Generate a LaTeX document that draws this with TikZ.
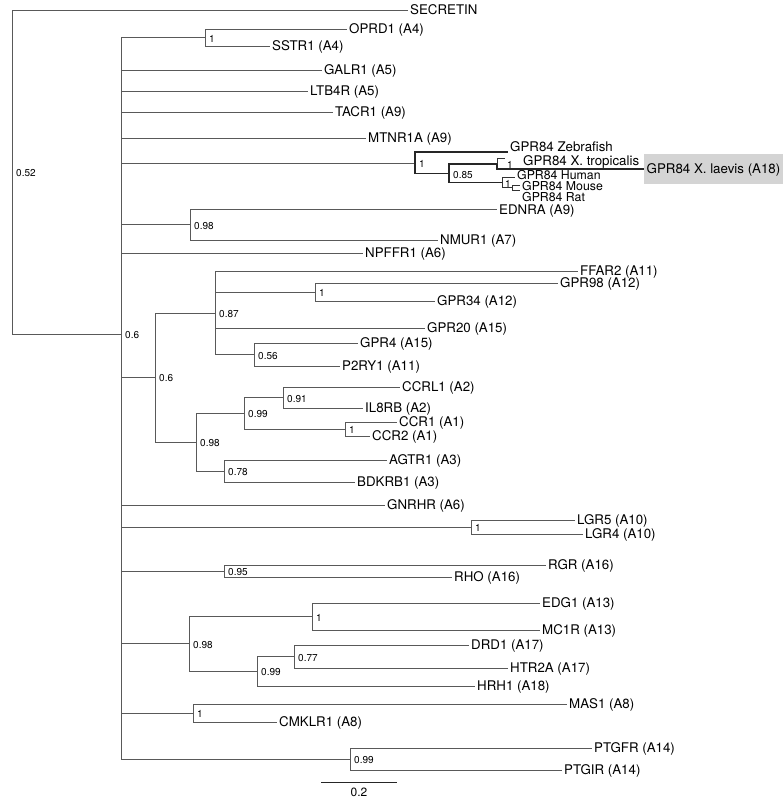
\documentclass[tikz,border=0pt]{standalone}
\usepackage{fontspec}
\setmainfont{TeX Gyre Heros}
\begin{document}
\begin{tikzpicture}[x=1pt,y=-1pt,
  br/.style={draw=black!65,line width=0.9pt},
  hl/.style={draw=black!85,line width=1.5pt},
  hs/.style={draw=black!80,line width=1pt},
  leaf/.style={anchor=west,inner xsep=2pt,inner ysep=0pt,text height=9.4pt,text depth=0pt,font=\fontsize{13.3}{14}\selectfont},
  tight/.style={leaf,text height=8.6pt,font=\fontsize{12.3}{13}\selectfont},
  bs/.style={anchor=west,inner sep=0pt,xshift=4pt,yshift=-1.2pt,text height=7.2pt,text depth=0pt,font=\fontsize{10}{11}\selectfont},
]
\useasboundingbox (0,0) rectangle (784,801);

% root
\coordinate (r) at (12,172);
\coordinate (m) at (121,334);
\node[leaf] (secretin) at (408,10) {SECRETIN};
\draw[br] (r) |- (secretin.west);
\draw[br] (r) |- (m);
\node[bs] (sr) at (r) {0.52};
\node[bs] (sm) at (m) {0.6};

% OPRD1 / SSTR1
\coordinate (c1) at (205,37.5);
\node[leaf] (oprd1) at (347,29) {OPRD1 (A4)};
\node[leaf] (sstr1) at (270,46) {SSTR1 (A4)};
\draw[br] (m) |- (c1);
\draw[br] (c1) |- (oprd1.west);
\draw[br] (c1) |- (sstr1.west);
\node[bs] (sc1) at (c1) {1};

% single leaves
\node[leaf] (galr1) at (322,70) {GALR1 (A5)};
\node[leaf] (ltb4r) at (308,91) {LTB4R (A5)};
\node[leaf] (tacr1) at (333,112) {TACR1 (A9)};
\node[leaf] (mtnr1a) at (366,138) {MTNR1A (A9)};
\draw[br] (m) |- (galr1.west);
\draw[br] (m) |- (ltb4r.west);
\draw[br] (m) |- (tacr1.west);
\draw[br] (m) |- (mtnr1a.west);

% GPR84 clade
\coordinate (g1) at (415,163);
\coordinate (g2) at (449,173.5);
\coordinate (g3) at (497,164);
\coordinate (g4) at (502,182.5);
\coordinate (g5) at (512,187.8);
\coordinate (zeb) at (508,152);
\coordinate (trop) at (505,158);
\coordinate (hum) at (515,177);
\coordinate (mou) at (520,185.5);
\coordinate (rat) at (520,190);
\node[leaf] (zebl) at (508,147) {GPR84 Zebrafish};
\node[leaf] (tropl) at (521,160.5) {GPR84 X. tropicalis};
\node[leaf,fill=black!17,inner xsep=2.5pt,minimum height=30pt] (laev) at (644,169) {GPR84 X. laevis (A18)};
\node[tight] (huml) at (515,175.3) {GPR84 Human};
\node[tight] (moul) at (520,186) {GPR84 Mouse};
\node[tight] (ratl) at (520,197.6) {GPR84 Rat};
\draw[br] (m) |- (g1);
\draw[hl] (g1) |- (zeb);
\draw[hl] (g1) |- (g2);
\draw[hl] (g2) |- (g3);
\draw[hl] (g2) |- (g4);
\draw[hs] (g3) |- (trop);
\draw[hl] (g3) |- (laev.west);
\draw[hs] (g4) |- (hum);
\draw[hs] (g4) |- (g5);
\draw[hs] (g5) |- (mou);
\draw[hs] (g5) |- (rat);
\node[bs] (sg1) at (g1) {1};
\node[bs] (sg2) at (g2) {0.85};
\node[bs,xshift=6pt] (sg3) at (g3) {1};
\node[bs,xshift=-1pt] (sg4) at (g4) {1};

% EDNRA / NMUR1
\coordinate (e1) at (190,224.5);
\node[leaf] (ednra) at (497,209.8) {EDNRA (A9)};
\node[leaf] (nmur1) at (438,240) {NMUR1 (A7)};
\draw[br] (m) |- (e1);
\draw[br] (e1) |- (ednra.west);
\draw[br] (e1) |- (nmur1.west);
\node[bs] (se1) at (e1) {0.98};

\node[leaf] (npffr1) at (363,253) {NPFFR1 (A6)};
\draw[br] (m) |- (npffr1.west);

% big 0.6 clade
\coordinate (q) at (155,377);
\coordinate (p) at (215,313);
\coordinate (p2) at (315,292);
\coordinate (p3) at (254,354.5);
\node[leaf] (ffar2) at (578,271) {FFAR2 (A11)};
\node[leaf] (gpr98) at (558,283) {GPR98 (A12)};
\node[leaf] (gpr34) at (435,301) {GPR34 (A12)};
\node[leaf] (gpr20) at (425,328) {GPR20 (A15)};
\node[leaf] (gpr4) at (358,343) {GPR4 (A15)};
\node[leaf] (p2ry1) at (340,366) {P2RY1 (A11)};
\draw[br] (m) |- (q);
\draw[br] (q) |- (p);
\draw[br] (p) |- (ffar2.west);
\draw[br] (p) |- (p2);
\draw[br] (p2) |- (gpr98.west);
\draw[br] (p2) |- (gpr34.west);
\draw[br] (p) |- (gpr20.west);
\draw[br] (p) |- (p3);
\draw[br] (p3) |- (gpr4.west);
\draw[br] (p3) |- (p2ry1.west);
\node[bs] (sq) at (q) {0.6};
\node[bs] (sp) at (p) {0.87};
\node[bs] (sp2) at (p2) {1};
\node[bs] (sp3) at (p3) {0.56};

\coordinate (s) at (196,442);
\coordinate (s1) at (244,413);
\coordinate (s2) at (283,397.5);
\coordinate (s3) at (345,429);
\coordinate (s4) at (224,471);
\node[leaf] (ccrl1) at (400,387) {CCRL1 (A2)};
\node[leaf] (il8rb) at (363,408) {IL8RB (A2)};
\node[leaf] (ccr1) at (397,422) {CCR1 (A1)};
\node[leaf] (ccr2) at (370,436) {CCR2 (A1)};
\node[leaf] (agtr1) at (387,460) {AGTR1 (A3)};
\node[leaf] (bdkrb1) at (355,482) {BDKRB1 (A3)};
\draw[br] (q) |- (s);
\draw[br] (s) |- (s1);
\draw[br] (s1) |- (s2);
\draw[br] (s2) |- (ccrl1.west);
\draw[br] (s2) |- (il8rb.west);
\draw[br] (s1) |- (s3);
\draw[br] (s3) |- (ccr1.west);
\draw[br] (s3) |- (ccr2.west);
\draw[br] (s) |- (s4);
\draw[br] (s4) |- (agtr1.west);
\draw[br] (s4) |- (bdkrb1.west);
\node[bs] (ss) at (s) {0.98};
\node[bs] (ss1) at (s1) {0.99};
\node[bs] (ss2) at (s2) {0.91};
\node[bs] (ss3) at (s3) {1};
\node[bs] (ss4) at (s4) {0.78};

% GNRHR
\node[leaf] (gnrhr) at (385,505) {GNRHR (A6)};
\draw[br] (m) |- (gnrhr.west);

% LGR
\coordinate (l) at (471,527);
\node[leaf] (lgr5) at (575,520) {LGR5 (A10)};
\node[leaf] (lgr4) at (583,534) {LGR4 (A10)};
\draw[br] (m) |- (l);
\draw[br] (l) |- (lgr5.west);
\draw[br] (l) |- (lgr4.west);
\node[bs] (sl) at (l) {1};

% RGR / RHO
\coordinate (h) at (224,571);
\node[leaf] (rgr) at (546,565) {RGR (A16)};
\node[leaf] (rho) at (452,577) {RHO (A16)};
\draw[br] (m) |- (h);
\draw[br] (h) |- (rgr.west);
\draw[br] (h) |- (rho.west);
\node[bs] (sh) at (h) {0.95};

% 0.98 clade
\coordinate (k) at (189,643.5);
\coordinate (k1) at (312,616.5);
\coordinate (k2) at (257,671);
\coordinate (k3) at (294,656.5);
\node[leaf] (edg1) at (540,603) {EDG1 (A13)};
\node[leaf] (mc1r) at (540,630) {MC1R (A13)};
\node[leaf] (drd1) at (469,645) {DRD1 (A17)};
\node[leaf] (htr2a) at (508,668) {HTR2A (A17)};
\node[leaf] (hrh1) at (475,686) {HRH1 (A18)};
\draw[br] (m) |- (k);
\draw[br] (k) |- (k1);
\draw[br] (k1) |- (edg1.west);
\draw[br] (k1) |- (mc1r.west);
\draw[br] (k) |- (k2);
\draw[br] (k2) |- (k3);
\draw[br] (k3) |- (drd1.west);
\draw[br] (k3) |- (htr2a.west);
\draw[br] (k2) |- (hrh1.west);
\node[bs] (sk) at (k) {0.98};
\node[bs] (sk1) at (k1) {1};
\node[bs] (sk2) at (k2) {0.99};
\node[bs] (sk3) at (k3) {0.77};

% MAS1 / CMKLR1
\coordinate (a) at (193,713);
\node[leaf] (mas1) at (567,704) {MAS1 (A8)};
\node[leaf] (cmklr1) at (277,722) {CMKLR1 (A8)};
\draw[br] (m) |- (a);
\draw[br] (a) |- (mas1.west);
\draw[br] (a) |- (cmklr1.west);
\node[bs] (sa) at (a) {1};

% PTGFR / PTGIR
\coordinate (t) at (350,759);
\node[leaf] (ptgfr) at (592,748) {PTGFR (A14)};
\node[leaf] (ptgir) at (562,770) {PTGIR (A14)};
\draw[br] (m) |- (t);
\draw[br] (t) |- (ptgfr.west);
\draw[br] (t) |- (ptgir.west);
\node[bs] (st) at (t) {0.99};

% scale bar
\coordinate (sb1) at (321,782);
\coordinate (sb2) at (397,782);
\draw[br,draw=black!85] (sb1) -- (sb2);
\node[leaf,anchor=north,font=\fontsize{12}{13}\selectfont] (sbl) at (359,787) {0.2};
\end{tikzpicture}
\end{document}
